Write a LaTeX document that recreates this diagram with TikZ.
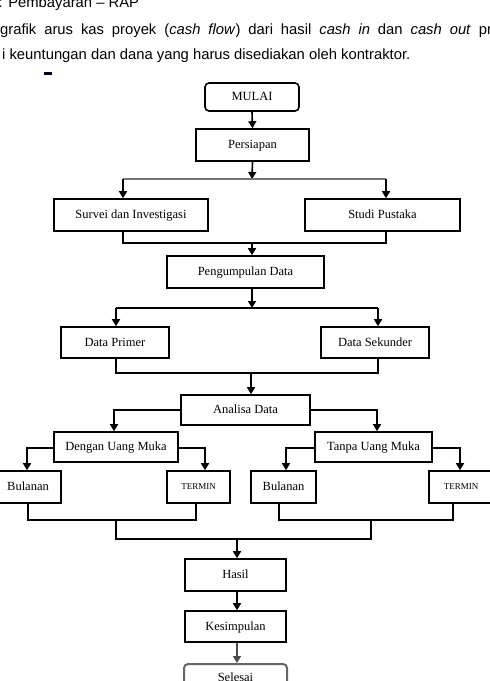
\documentclass[tikz,border=0pt]{standalone}
\usepackage{fontspec}
\setmainfont{Liberation Serif}
\newfontfamily\topfont[Ligatures=TeX]{Liberation Sans}
\usetikzlibrary{arrows.meta}
\begin{document}
\begin{tikzpicture}[x=1pt,y=-1pt,
  box/.style={draw, line width=1.6pt, inner sep=0pt, minimum height=32pt, text depth=1pt, font=\fontsize{12.5}{14}\selectfont},
  rbox/.style={box, rounded corners=4pt},
  ln/.style={line width=1.6pt},
  arr/.style={ln, -{Triangle[width=8pt,length=7pt]}},
  gln/.style={line width=2.4pt, draw=black!55},
  toptext/.style={anchor=base west, inner sep=0pt, font=\topfont\fontsize{14.8}{17}\selectfont}]
\useasboundingbox (0,0) rectangle (490,681);
% header text
\node[toptext] (t1) at (-1.5,7) {: Pembayaran – RAP};
\node[toptext] (t2) at (0,34) {\makebox[500pt][s]{grafik arus kas proyek (\textit{cash flow}) dari hasil \textit{cash in} dan \textit{cash out} pro}};
\node[toptext] (t3) at (2,59) {i keuntungan dan dana yang harus disediakan oleh kontraktor.};
\fill[black!85!blue] (44,72) rectangle (52,75);
% boxes
\node[rbox, minimum width=94pt, minimum height=28pt] (mulai) at (252,97) {MULAI};
\node[box, minimum width=113pt] (pers) at (252.5,145) {Persiapan};
\node[box, minimum width=154pt] (sv) at (131,215) {Survei dan Investigasi};
\node[box, minimum width=155pt] (sp) at (382.5,215) {Studi Pustaka};
\node[box, minimum width=157pt] (pd) at (245.5,272) {Pengumpulan Data};
\node[box, minimum width=108pt, minimum height=31pt] (dp) at (115,342.5) {Data Primer};
\node[box, minimum width=108pt, minimum height=31pt] (ds) at (375,342.5) {Data Sekunder};
\node[box, minimum width=129pt, minimum height=30pt] (ad) at (245.5,410) {Analisa Data};
\node[box, minimum width=124pt, minimum height=30pt] (dum) at (116,447) {Dengan Uang Muka};
\node[box, minimum width=117pt, minimum height=30pt] (tum) at (373.5,447) {Tanpa Uang Muka};
\node[box, minimum width=66pt] (b1) at (28,487) {Bulanan};
\node[box, minimum width=63pt, font=\fontsize{9}{10}\selectfont] (tm1) at (198.5,487) {TERMIN};
\node[box, minimum width=65pt] (b2) at (283.5,487) {Bulanan};
\node[box, minimum width=64pt, font=\fontsize{9}{10}\selectfont] (tm2) at (461,487) {TERMIN};
\node[box, minimum width=101pt] (hasil) at (235.5,575) {Hasil};
\node[box, minimum width=101pt, minimum height=31pt] (kes) at (235.5,626.5) {Kesimpulan};
\node[rbox, draw=black!60, line width=2pt, minimum width=103pt, minimum height=28pt] (sel) at (235.5,678) {Selesai};
% coordinates
\coordinate (c1) at (252,179);
\coordinate (c1l) at (123,179);
\coordinate (c1r) at (386,179);
\coordinate (c2) at (252,243);
\coordinate (c2l) at (123,243);
\coordinate (c2r) at (386,243);
\coordinate (c3) at (252,308);
\coordinate (c3l) at (116,308);
\coordinate (c3r) at (378,308);
\coordinate (c4) at (251,373);
\coordinate (c4l) at (116,373);
\coordinate (c4r) at (378,373);
\coordinate (c5l) at (114,410);
\coordinate (c5r) at (377,410);
\coordinate (c6a) at (27,448);
\coordinate (c6b) at (205,448);
\coordinate (c6c) at (286,448);
\coordinate (c6d) at (460,448);
\coordinate (c7a) at (28,520);
\coordinate (c7b) at (196,520);
\coordinate (c7c) at (279,520);
\coordinate (c7d) at (453,520);
\coordinate (c7l) at (116,520);
\coordinate (c7r) at (371,520);
\coordinate (c8l) at (116,539);
\coordinate (c8r) at (371,539);
\coordinate (c8) at (237,539);
% connectors
\draw[arr] (mulai.south) -- (pers.north);
\draw[arr] (pers.south) -- (c1);
\draw[gln] (c1l) -- (c1r);
\draw[arr] (c1l) -- (c1l |- sv.north);
\draw[arr] (c1r) -- (c1r |- sp.north);
\draw[ln] (c2l |- sv.south) -- (c2l) -- (c2r) -- (c2r |- sp.south);
\draw[arr] (c2) -- (c2 |- pd.north);
\draw[arr] (c3 |- pd.south) -- (c3);
\draw[ln] (c3l) -- (c3r);
\draw[arr] (c3l) -- (c3l |- dp.north);
\draw[arr] (c3r) -- (c3r |- ds.north);
\draw[ln] (c4l |- dp.south) -- (c4l) -- (c4r) -- (c4r |- ds.south);
\draw[arr] (c4) -- (c4 |- ad.north);
\draw[arr] (ad.west) -- (c5l) -- (c5l |- dum.north);
\draw[arr] (ad.east) -- (c5r) -- (c5r |- tum.north);
\draw[arr] (c6a -| dum.west) -- (c6a) -- (c6a |- b1.north);
\draw[arr] (c6b -| dum.east) -- (c6b) -- (c6b |- tm1.north);
\draw[arr] (c6c -| tum.west) -- (c6c) -- (c6c |- b2.north);
\draw[arr] (c6d -| tum.east) -- (c6d) -- (c6d |- tm2.north);
\draw[ln] (c7a |- b1.south) -- (c7a) -- (c7b) -- (c7b |- tm1.south);
\draw[ln] (c7c |- b2.south) -- (c7c) -- (c7d) -- (c7d |- tm2.south);
\draw[ln] (c7l) -- (c8l) -- (c8r) -- (c7r);
\draw[arr] (c8) -- (c8 |- hasil.north);
\draw[arr] (c8 |- hasil.south) -- (c8 |- kes.north);
\draw[arr, draw=black!70] (c8 |- kes.south) -- (c8 |- sel.north);
\end{tikzpicture}
\end{document}
